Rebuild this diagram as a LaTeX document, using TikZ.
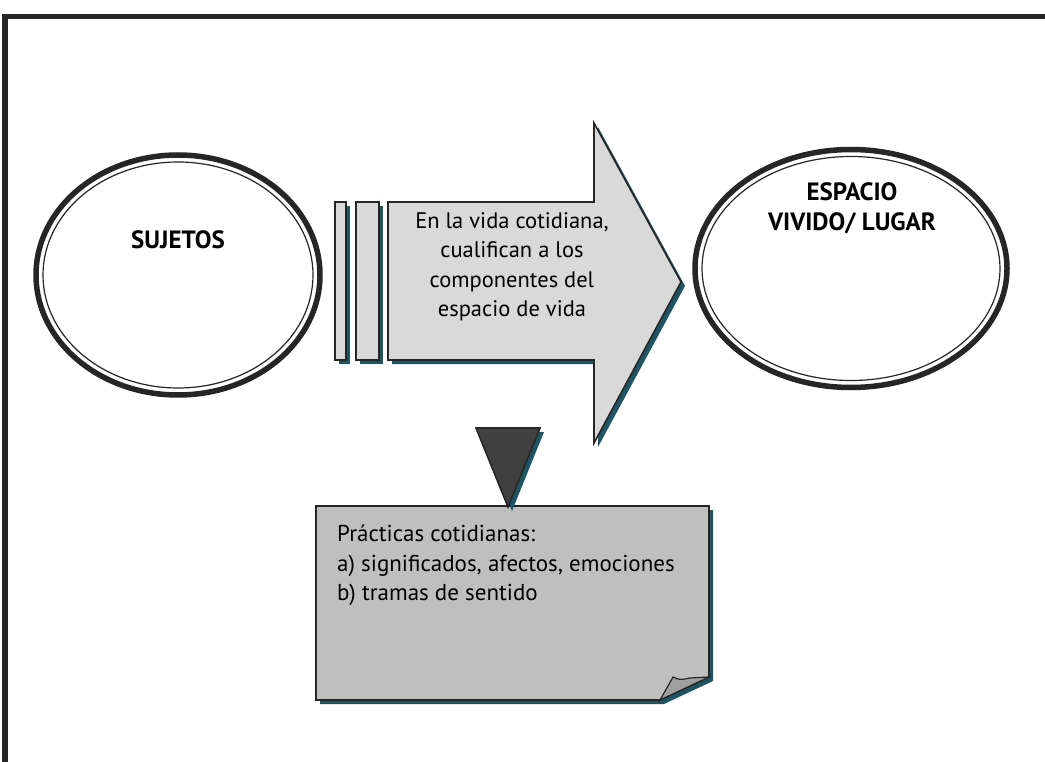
\documentclass[tikz,border=0pt]{standalone}
\usepackage{fontspec}
\setmainfont{PT Sans}
\usetikzlibrary{shapes.geometric}
\definecolor{shadowteal}{RGB}{31,85,99}
\definecolor{edgedark}{RGB}{38,38,38}
\definecolor{arrowgray}{RGB}{217,217,217}
\definecolor{notegray}{RGB}{191,191,191}
\definecolor{flapgray}{RGB}{160,160,160}
\definecolor{tipgray}{RGB}{64,64,64}
\begin{document}
\begin{tikzpicture}[x=1pt,y=-1pt,
  ring/.style={ellipse,draw=edgedark,line width=5.5pt,inner sep=0pt},
  innerring/.style={draw=edgedark,line width=1.2pt},
  drop/.style={preaction={fill=shadowteal,transform canvas={shift={(4pt,-4pt)}}}},
  shapeline/.style={draw=edgedark,line width=1.6pt,line join=miter},
  ringlabel/.style={font=\fontsize{25}{30}\selectfont\bfseries,align=center},
  bodytext/.style={font=\fontsize{22.5}{29.5}\selectfont,inner sep=0pt}]
\useasboundingbox (0,0) rectangle (1045,762);
\fill[white] (0,0) rectangle (1045,762);
% frame
\draw[edgedark,line width=5.5pt] (5,762) -- (5,16.5) -- (1045,16.5);
% rings
\node[ring,minimum width=284pt,minimum height=240pt] (suj) at (178,275) {};
\draw[innerring] (suj.center) ellipse [x radius=135, y radius=113];
\node[ringlabel] (sujlbl) at (178,240) {SUJETOS};
\node[ring,minimum width=312pt,minimum height=238pt] (esp) at (851,268.5) {};
\draw[innerring] (esp.center) ellipse [x radius=149, y radius=112];
\node[ringlabel] (esplbl) at (852,208) {ESPACIO\\VIVIDO/ LUGAR};
% arrow with bars
\draw[shapeline,fill=arrowgray,drop] (335,202) rectangle (346,360);
\draw[shapeline,fill=arrowgray,drop] (356,202) rectangle (379,360);
\draw[shapeline,fill=arrowgray,drop] (388,202) -- (594,202) -- (594,123) -- (681,282)
  -- (594,443) -- (594,360) -- (388,360) -- cycle;
\node[bodytext,align=center] (arrtxt) at (512,267) {En la vida cotidiana,\\cualifican a los\\componentes del\\espacio de vida};
% note
\draw[shapeline,fill=notegray,drop] (316,506) -- (709,506) -- (709,677) -- (660,700)
  -- (316,700) -- cycle;
\draw[shapeline,line width=1.2pt,fill=flapgray] (660,700) -- (673,677) .. controls (680,680) .. (690,678)
  -- (709,677) -- cycle;
\draw[shapeline,fill=tipgray,drop] (476,428) -- (540,428) -- (508,507) -- cycle;
\node[bodytext,align=left,anchor=north west,font=\fontsize{23}{29.5}\selectfont] (notetxt) at (337,525) {Prácticas cotidianas:\\a) significados, afectos, emociones\\b) tramas de sentido};
\end{tikzpicture}
\end{document}
